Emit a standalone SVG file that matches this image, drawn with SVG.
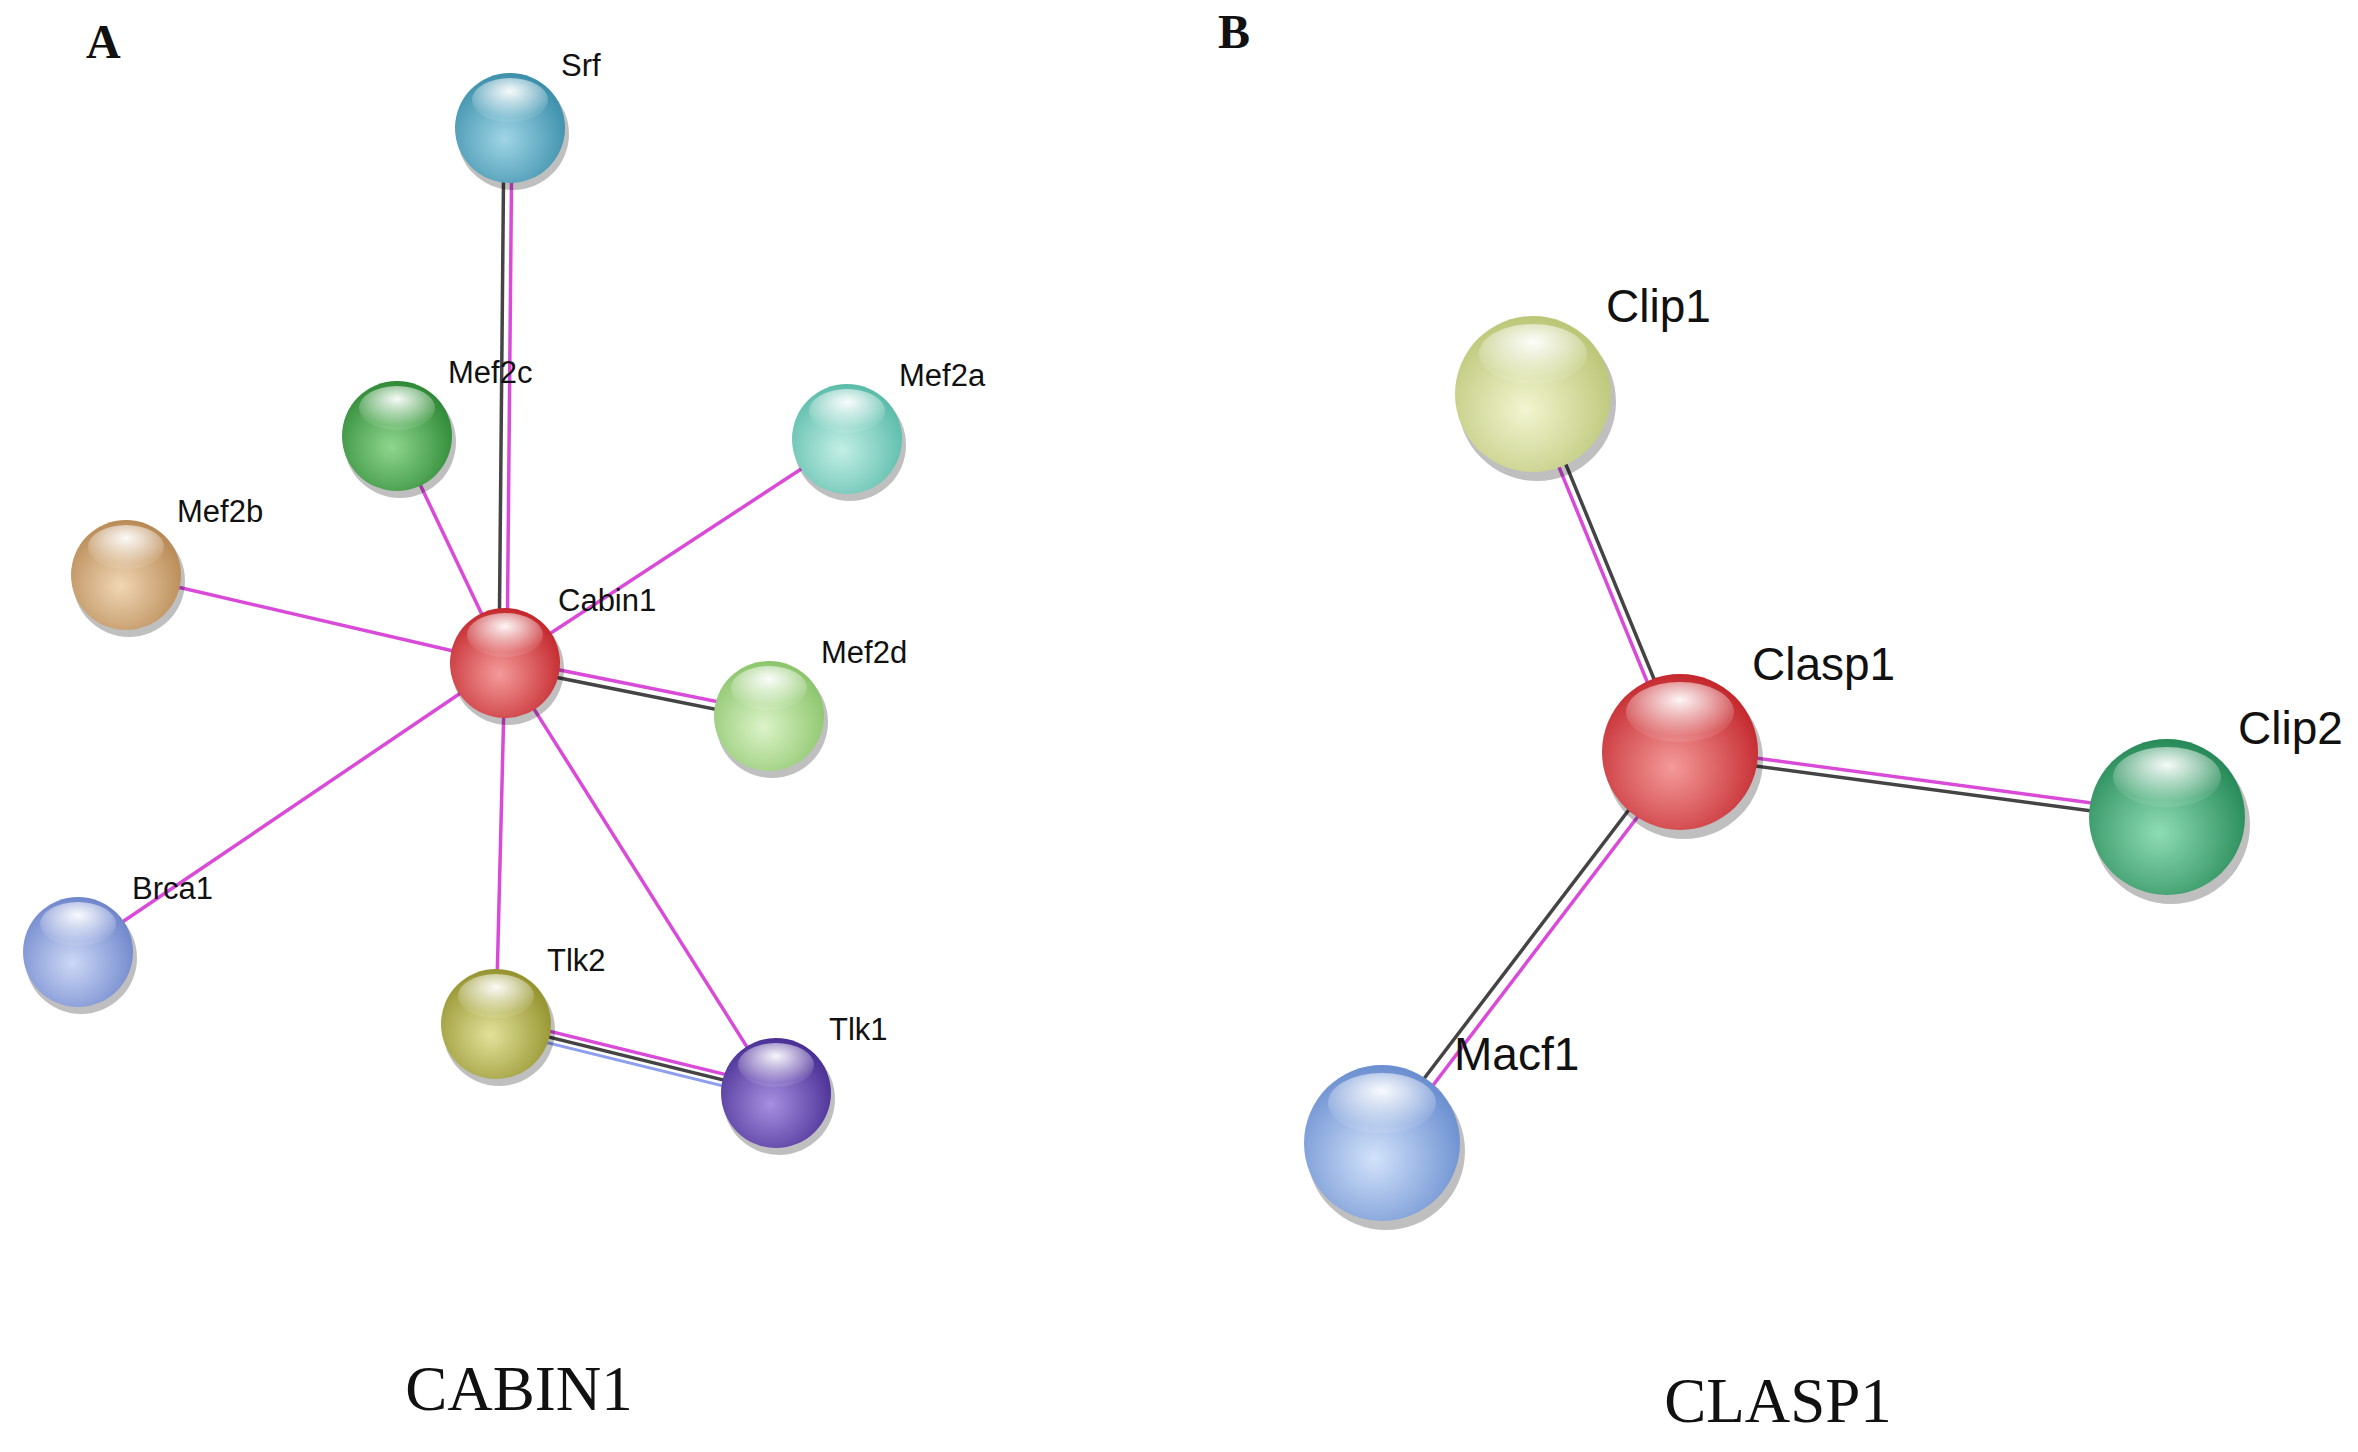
<svg xmlns="http://www.w3.org/2000/svg" width="2358" height="1452" viewBox="0 0 2358 1452">
<style>
.lbl{font-family:"Liberation Sans",Arial,sans-serif;fill:#111}
.a{font-size:31px}.b{font-size:46px}
.cap{font-family:"Liberation Serif","Times New Roman",serif;font-size:63px;fill:#111}
.pl{font-family:"Liberation Serif","Times New Roman",serif;font-size:48px;font-weight:bold;fill:#111}
.m{stroke:#d94ad9;stroke-width:3.5;fill:none}
.k{stroke:#444;stroke-width:3.5;fill:none}
.u{stroke:#8c9ef0;stroke-width:3;fill:none}
.sh{fill:#000;opacity:0.25}
.hi{fill:url(#hl)}
</style>
<defs>
<radialGradient id="hl" cx="50%" cy="30%" r="60%"><stop offset="0" stop-color="#fff" stop-opacity="0.95"/><stop offset="1" stop-color="#fff" stop-opacity="0.1"/></radialGradient>
<radialGradient id="g1" cx="45%" cy="60%" r="60%"><stop offset="0" stop-color="#9fd5e5"/><stop offset="1" stop-color="#3c8fab"/></radialGradient>
<radialGradient id="g2" cx="45%" cy="60%" r="60%"><stop offset="0" stop-color="#8fd68f"/><stop offset="1" stop-color="#2f8a36"/></radialGradient>
<radialGradient id="g3" cx="45%" cy="60%" r="60%"><stop offset="0" stop-color="#c3efe6"/><stop offset="1" stop-color="#5bbcaa"/></radialGradient>
<radialGradient id="g4" cx="45%" cy="60%" r="60%"><stop offset="0" stop-color="#f0d6b4"/><stop offset="1" stop-color="#b88a55"/></radialGradient>
<radialGradient id="g5" cx="45%" cy="60%" r="60%"><stop offset="0" stop-color="#f49a9a"/><stop offset="1" stop-color="#c4282d"/></radialGradient>
<radialGradient id="g6" cx="45%" cy="60%" r="60%"><stop offset="0" stop-color="#dcf3c8"/><stop offset="1" stop-color="#8cc56c"/></radialGradient>
<radialGradient id="g7" cx="45%" cy="60%" r="60%"><stop offset="0" stop-color="#cdd8f6"/><stop offset="1" stop-color="#6f86cc"/></radialGradient>
<radialGradient id="g8" cx="45%" cy="60%" r="60%"><stop offset="0" stop-color="#e2e19a"/><stop offset="1" stop-color="#94932e"/></radialGradient>
<radialGradient id="g9" cx="45%" cy="60%" r="60%"><stop offset="0" stop-color="#a690e0"/><stop offset="1" stop-color="#4a2f95"/></radialGradient>
<radialGradient id="g10" cx="45%" cy="60%" r="60%"><stop offset="0" stop-color="#f2f5d0"/><stop offset="1" stop-color="#bcc677"/></radialGradient>
<radialGradient id="g11" cx="45%" cy="60%" r="60%"><stop offset="0" stop-color="#8fdcb4"/><stop offset="1" stop-color="#268a58"/></radialGradient>
<radialGradient id="g12" cx="45%" cy="60%" r="60%"><stop offset="0" stop-color="#d2e2fa"/><stop offset="1" stop-color="#6a8ed0"/></radialGradient>
</defs>
<text class="pl" x="86" y="58">A</text>
<text class="pl" x="1218" y="48">B</text>
<g id="connectors">
<line class="k" x1="504" y1="128" x2="499" y2="663"/><line class="m" x1="512" y1="128" x2="507" y2="663"/>
<line class="m" x1="397" y1="436" x2="505" y2="663"/>
<line class="m" x1="847" y1="439" x2="505" y2="663"/>
<line class="m" x1="126" y1="575" x2="505" y2="663"/>
<line class="m" x1="505" y1="659" x2="769" y2="712"/><line class="k" x1="505" y1="667" x2="769" y2="720"/>
<line class="m" x1="78" y1="952" x2="505" y2="663"/>
<line class="m" x1="496" y1="1024" x2="505" y2="663"/>
<line class="m" x1="776" y1="1093" x2="505" y2="663"/>
<line class="m" x1="496" y1="1018" x2="776" y2="1087"/><line class="k" x1="496" y1="1024" x2="776" y2="1093"/><line class="u" x1="496" y1="1030" x2="776" y2="1099"/>
<line class="m" x1="1529" y1="394" x2="1676" y2="752"/><line class="k" x1="1537" y1="394" x2="1684" y2="752"/>
<line class="m" x1="1680" y1="748" x2="2167" y2="813"/><line class="k" x1="1680" y1="756" x2="2167" y2="821"/>
<line class="k" x1="1676" y1="748" x2="1378" y2="1139"/><line class="m" x1="1684" y1="756" x2="1386" y2="1147"/>
</g>
<g id="Srf"><ellipse class="sh" cx="513" cy="134" rx="56" ry="56"/><circle cx="510" cy="128" r="55" fill="url(#g1)"/><ellipse class="hi" cx="510" cy="100" rx="38" ry="22"/><text class="lbl a" x="561" y="76">Srf</text></g>
<g id="Mef2c"><ellipse class="sh" cx="400" cy="442" rx="56" ry="56"/><circle cx="397" cy="436" r="55" fill="url(#g2)"/><ellipse class="hi" cx="397" cy="408" rx="38" ry="22"/><text class="lbl a" x="448" y="383">Mef2c</text></g>
<g id="Mef2a"><ellipse class="sh" cx="850" cy="445" rx="56" ry="56"/><circle cx="847" cy="439" r="55" fill="url(#g3)"/><ellipse class="hi" cx="847" cy="411" rx="38" ry="22"/><text class="lbl a" x="899" y="386">Mef2a</text></g>
<g id="Mef2b"><ellipse class="sh" cx="129" cy="581" rx="56" ry="56"/><circle cx="126" cy="575" r="55" fill="url(#g4)"/><ellipse class="hi" cx="126" cy="547" rx="38" ry="22"/><text class="lbl a" x="177" y="522">Mef2b</text></g>
<g id="Cabin1"><ellipse class="sh" cx="508" cy="669" rx="56" ry="56"/><circle cx="505" cy="663" r="55" fill="url(#g5)"/><ellipse class="hi" cx="505" cy="635" rx="38" ry="22"/><text class="lbl a" x="558" y="611">Cabin1</text></g>
<g id="Mef2d"><ellipse class="sh" cx="772" cy="722" rx="56" ry="56"/><circle cx="769" cy="716" r="55" fill="url(#g6)"/><ellipse class="hi" cx="769" cy="688" rx="38" ry="22"/><text class="lbl a" x="821" y="663">Mef2d</text></g>
<g id="Brca1"><ellipse class="sh" cx="81" cy="958" rx="56" ry="56"/><circle cx="78" cy="952" r="55" fill="url(#g7)"/><ellipse class="hi" cx="78" cy="924" rx="38" ry="22"/><text class="lbl a" x="132" y="899">Brca1</text></g>
<g id="Tlk2"><ellipse class="sh" cx="499" cy="1030" rx="56" ry="56"/><circle cx="496" cy="1024" r="55" fill="url(#g8)"/><ellipse class="hi" cx="496" cy="996" rx="38" ry="22"/><text class="lbl a" x="547" y="971">Tlk2</text></g>
<g id="Tlk1"><ellipse class="sh" cx="779" cy="1099" rx="56" ry="56"/><circle cx="776" cy="1093" r="55" fill="url(#g9)"/><ellipse class="hi" cx="776" cy="1065" rx="38" ry="22"/><text class="lbl a" x="829" y="1040">Tlk1</text></g>
<g id="Clip1"><ellipse class="sh" cx="1537" cy="402" rx="79" ry="79"/><circle cx="1533" cy="394" r="78" fill="url(#g10)"/><ellipse class="hi" cx="1533" cy="354" rx="54" ry="30"/><text class="lbl b" x="1606" y="322">Clip1</text></g>
<g id="Clasp1"><ellipse class="sh" cx="1684" cy="760" rx="79" ry="79"/><circle cx="1680" cy="752" r="78" fill="url(#g5)"/><ellipse class="hi" cx="1680" cy="712" rx="54" ry="30"/><text class="lbl b" x="1752" y="680">Clasp1</text></g>
<g id="Clip2"><ellipse class="sh" cx="2171" cy="825" rx="79" ry="79"/><circle cx="2167" cy="817" r="78" fill="url(#g11)"/><ellipse class="hi" cx="2167" cy="777" rx="54" ry="30"/><text class="lbl b" x="2238" y="744">Clip2</text></g>
<g id="Macf1"><ellipse class="sh" cx="1386" cy="1151" rx="79" ry="79"/><circle cx="1382" cy="1143" r="78" fill="url(#g12)"/><ellipse class="hi" cx="1382" cy="1103" rx="54" ry="30"/><text class="lbl b" x="1454" y="1070">Macf1</text></g>
<text class="cap" x="519" y="1410" text-anchor="middle">CABIN1</text>
<text class="cap" x="1778" y="1422" text-anchor="middle">CLASP1</text>
</svg>
